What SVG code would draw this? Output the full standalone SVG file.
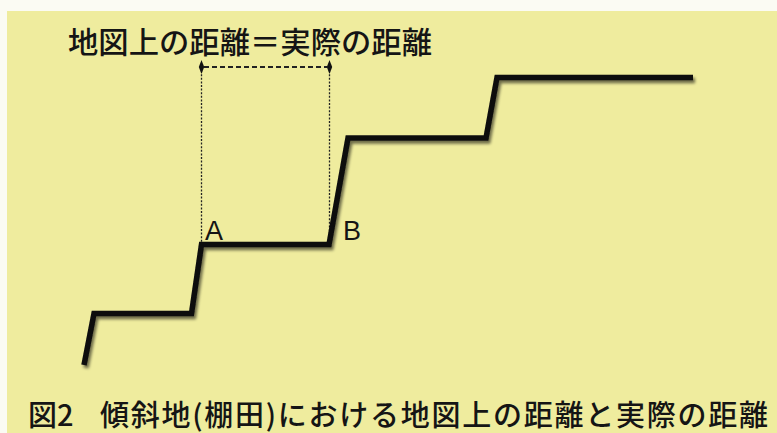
<svg xmlns="http://www.w3.org/2000/svg" width="777" height="433" viewBox="0 0 777 433">
  <style>
    .jp { font-family: "Noto Sans CJK JP", "Noto Sans", sans-serif; fill: #151515; font-weight: 500; }
    .lbl { font-family: "Liberation Sans", Arial, sans-serif; fill: #151515; font-size: 27px; }
    .step { fill: none; stroke: #0a0a0a; stroke-width: 5.5; stroke-linejoin: miter; stroke-linecap: butt; }
    .dot { fill: none; stroke: #222; stroke-width: 1.3; stroke-dasharray: 2 1.6; }
    .dash { fill: none; stroke: #222; stroke-width: 1.8; stroke-dasharray: 5 3; }
    .dia { fill: #111; }
  </style>
  <defs>
    <filter id="sh" x="-5%" y="-10%" width="110%" height="120%">
      <feGaussianBlur in="SourceAlpha" stdDeviation="1.6"/>
      <feOffset dx="2" dy="2.5" result="b"/>
      <feComponentTransfer><feFuncA type="linear" slope="0.55"/></feComponentTransfer>
      <feMerge><feMergeNode/><feMergeNode in="SourceGraphic"/></feMerge>
    </filter>
  </defs>
  <rect x="0" y="0" width="777" height="433" fill="#fbfbf3"/>
  <rect x="7" y="11" width="770" height="422" fill="#efec9e"/>

  <g id="title">
    <text class="jp" x="68" y="53" font-size="30" textLength="364" lengthAdjust="spacingAndGlyphs">地図上の距離＝実際の距離</text>
  </g>

  <g id="connectors">
    <line class="dot" x1="201.5" y1="67" x2="201.5" y2="244"/>
    <line class="dot" x1="329.5" y1="67" x2="329.5" y2="244"/>
    <line class="dash" x1="204" y1="67" x2="327" y2="67"/>
    <polygon class="dia" points="201.5,60 204.2,67 201.5,74 198.8,67"/>
    <polygon class="dia" points="329.5,60 332.2,67 329.5,74 326.8,67"/>
  </g>

  <g id="terrain" filter="url(#sh)">
    <polyline class="step" points="84,365 94,313.5 191.5,313.5 201.5,244.5 329,244.5 348,138 486,138 497,77.5 693,77.5"/>
  </g>

  <g id="pointA">
    <text class="lbl" x="205" y="240">A</text>
  </g>
  <g id="pointB">
    <text class="lbl" x="343" y="240">B</text>
  </g>

  <g id="caption">
    <text class="jp" x="28" y="426" font-size="29">図2</text>
    <text class="jp" x="100" y="426" font-size="29" textLength="668" lengthAdjust="spacing">傾斜地(棚田)における地図上の距離と実際の距離</text>
  </g>
</svg>
